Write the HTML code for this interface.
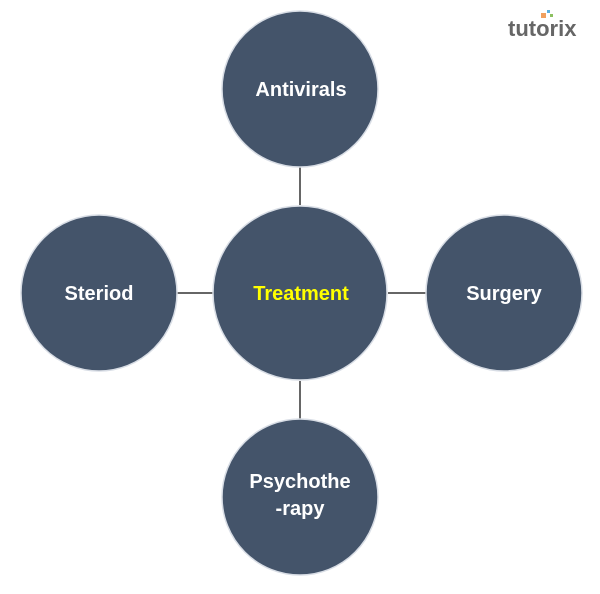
<!DOCTYPE html>
<html><head><style>body{margin:0;background:#fff}</style></head><body>
<svg width="600" height="589" viewBox="0 0 600 589" xmlns="http://www.w3.org/2000/svg" font-family="Liberation Sans, sans-serif" font-weight="bold">
<g stroke="#333" stroke-width="1.5">
<line x1="300" y1="167" x2="300" y2="205"/>
<line x1="300" y1="381" x2="300" y2="419"/>
<line x1="177" y1="293" x2="213" y2="293"/>
<line x1="388" y1="293" x2="426" y2="293"/>
</g>
<g fill="#44546a" stroke="#d8dde5" stroke-width="1.5">
<circle cx="300" cy="89" r="78"/>
<circle cx="300" cy="293" r="87"/>
<circle cx="99" cy="293" r="78"/>
<circle cx="504" cy="293" r="78"/>
<circle cx="300" cy="497" r="78"/>
</g>
<g fill="#fff" font-size="20" text-anchor="middle">
<text x="301" y="96">Antivirals</text>
<text x="99" y="300">Steriod</text>
<text x="504" y="300">Surgery</text>
<text x="300" y="488">Psychothe</text>
<text x="300" y="515">-rapy</text>
</g>
<text x="301" y="300" fill="#ffff00" font-size="20" text-anchor="middle">Treatment</text>
<text x="508" y="36" fill="#666" font-size="22">tutorix</text>
<rect x="541" y="13" width="5" height="5" fill="#f0a060"/>
<rect x="547" y="10" width="3" height="3" fill="#5ab0e0"/>
<rect x="550" y="14" width="3" height="3" fill="#8cc060"/>
</svg>
</body></html>
